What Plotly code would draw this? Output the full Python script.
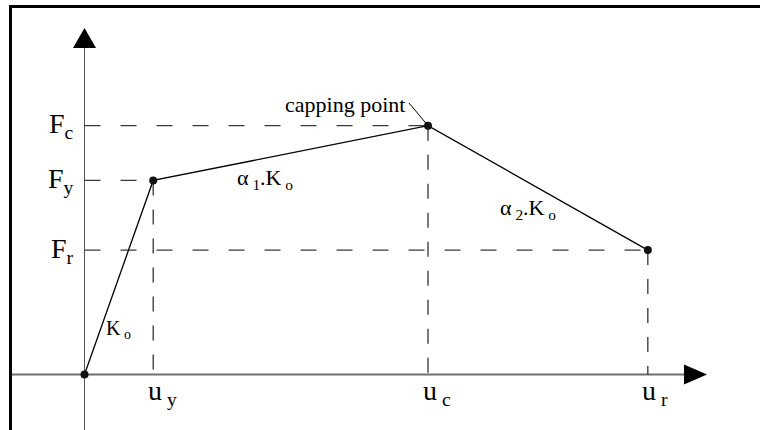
import plotly.graph_objects as go

# Backbone: origin, yield point, capping point, residual point
u_pts = [0.0, 1.0, 5.0, 8.2]
F_pts = [0.0, 0.78, 1.0, 0.5]

# Subscripts for the characteristic displacements / forces (yield, capping, residual)
u_subs = ["y", "c", "r"]
F_subs = ["y", "c", "r"]

# Branch stiffness labels (elastic, hardening, softening)
slope_labels = [
    "K<sub>\u00a0o</sub>",
    "\u03b1<sub>\u00a01</sub>.K<sub>\u00a0o</sub>",
    "\u03b1<sub>\u00a02</sub>.K<sub>\u00a0o</sub>",
]
cap_label = "capping point"

W, H = 760, 430
X0, SX = 84.5, 68.7      # pixel position of u=0, pixels per unit u
Y0, SY = 374.5, 248.8    # pixel position of F=0, pixels per unit F


def px2x(p):
    return (p - X0) / SX


def px2y(p):
    return (Y0 - p) / SY


SERIF = "Liberation Serif"
fig = go.Figure()

# dashed reference lines from each characteristic point to the axes
for u, F in zip(u_pts[1:], F_pts[1:]):
    fig.add_trace(go.Scatter(x=[0, u], y=[F, F], mode="lines",
                             line=dict(color="#3a3a3a", width=1.2, dash="16px,20px"),
                             hoverinfo="skip", showlegend=False))
    fig.add_trace(go.Scatter(x=[u, u], y=[F, 0], mode="lines",
                             line=dict(color="#222222", width=1.2, dash="15px,14px"),
                             hoverinfo="skip", showlegend=False))

shapes = []
# outer frame: a box running past the right and bottom edges, so only the
# top and left sides are visible
shapes.append(dict(type="rect", xref="paper", yref="paper",
                   x0=10.5 / W, x1=1.5, y0=-0.5, y1=1 - 6.5 / H,
                   line=dict(color="black", width=3), fillcolor="rgba(0,0,0,0)", layer="below"))
# axes
shapes.append(dict(type="line", xref="x", yref="y", x0=px2x(12), x1=px2x(686),
                   y0=0, y1=0, line=dict(color="#6e6e6e", width=2), layer="below"))
shapes.append(dict(type="line", xref="x", yref="y", x0=0, x1=0,
                   y0=px2y(46), y1=px2y(432), line=dict(color="#555555", width=1), layer="below"))
# arrow heads
ax_tip, ax_base, ax_half = px2y(28), px2y(48), 11.5 / SX
shapes.append(dict(type="path", xref="x", yref="y",
                   path=f"M {-ax_half},{ax_base} L {ax_half},{ax_base} L 0,{ax_tip} Z",
                   fillcolor="black", line=dict(color="black", width=0)))
bx_base, bx_tip, bx_half = px2x(684), px2x(707), 10 / SY
shapes.append(dict(type="path", xref="x", yref="y",
                   path=f"M {bx_base},{-bx_half} L {bx_base},{bx_half} L {bx_tip},0 Z",
                   fillcolor="black", line=dict(color="black", width=0)))
# leader line to the capping point
shapes.append(dict(type="line", xref="x", yref="y", x0=px2x(409), y0=px2y(103),
                   x1=u_pts[2], y1=F_pts[2], line=dict(color="black", width=1)))

# backbone curve
fig.add_trace(go.Scatter(x=u_pts, y=F_pts, mode="lines+markers",
                         line=dict(color="black", width=1.3),
                         marker=dict(color="#111111", size=8),
                         hoverinfo="skip", showlegend=False))

ann = []
for F, s in zip(F_pts[1:], F_subs):
    ann.append(dict(x=px2x(76), y=F, xref="x", yref="y", xanchor="right", yanchor="middle",
                    text=f"F<sub>{s}</sub>", showarrow=False,
                    font=dict(family=SERIF, size=28, color="black")))
for u, s in zip(u_pts[1:], u_subs):
    ann.append(dict(x=u - 7.5 / SX, y=px2y(373), xref="x", yref="y", xanchor="left", yanchor="top",
                    text=f"u<sub>\u00a0{s}</sub>", showarrow=False,
                    font=dict(family=SERIF, size=28, color="black")))

slope_pos = [(118, 329), (265, 179), (528, 209)]
slope_size = [20, 22, 22]
for (px, py), t, fs in zip(slope_pos, slope_labels, slope_size):
    ann.append(dict(x=px2x(px), y=px2y(py), xref="x", yref="y", xanchor="center", yanchor="middle",
                    text=t, showarrow=False, font=dict(family=SERIF, size=fs, color="black")))

ann.append(dict(x=px2x(407), y=px2y(104), xref="x", yref="y", xanchor="right", yanchor="middle",
                text=cap_label, showarrow=False, font=dict(family=SERIF, size=22, color="black")))

fig.update_layout(
    width=W, height=H, autosize=False,
    margin=dict(l=0, r=0, t=0, b=0, pad=0),
    paper_bgcolor="white", plot_bgcolor="white",
    xaxis=dict(range=[px2x(0), px2x(W)], visible=False, fixedrange=True),
    yaxis=dict(range=[px2y(H), px2y(0)], visible=False, fixedrange=True),
    shapes=shapes, annotations=ann,
)

fig.write_html("out.html", config={"displayModeBar": False})
